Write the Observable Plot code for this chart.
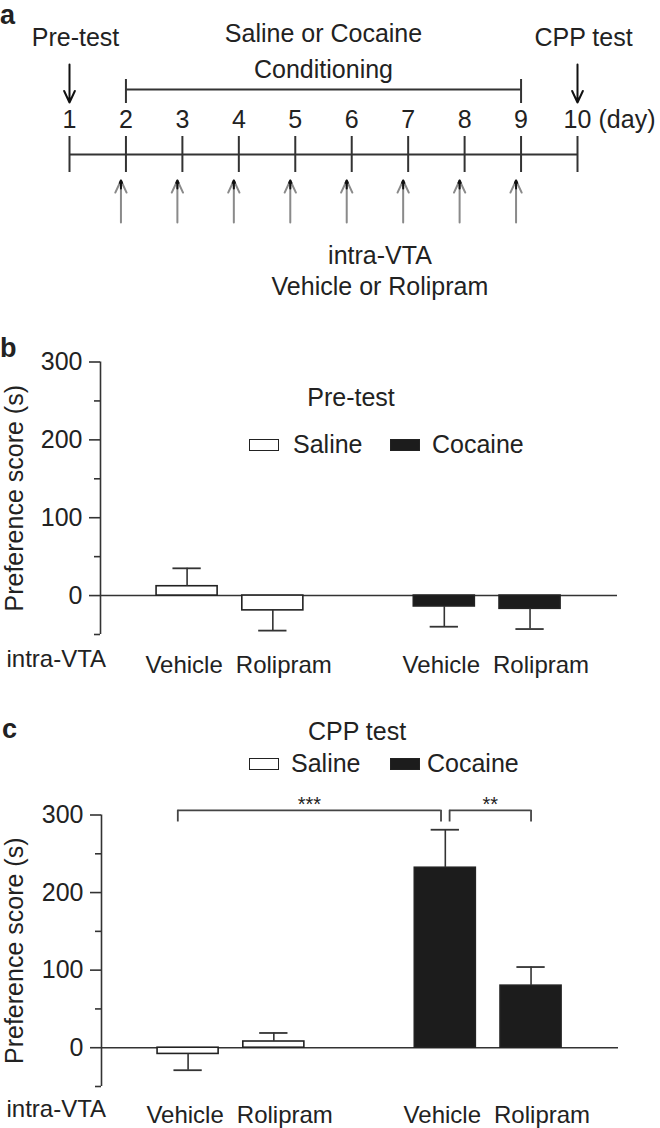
<!DOCTYPE html>
<html><head><meta charset="utf-8">
<script src="https://cdn.jsdelivr.net/npm/d3@7"></script>
<script src="https://cdn.jsdelivr.net/npm/@observablehq/plot@0.6"></script>
<style>
body{margin:0;background:#fff;}
#fig{position:relative;width:660px;height:1128px;overflow:hidden;font-family:"Liberation Sans",Arial,Helvetica,sans-serif;color:#222;}
#fig svg{position:absolute;left:0;}
.abs{position:absolute;white-space:nowrap;line-height:1;}
.sw{position:absolute;box-sizing:border-box;border:1.6px solid #222;}
</style></head><body><div id="fig"></div>
<script>
// ---------------- data ----------------
const days = [1, 2, 3, 4, 5, 6, 7, 8, 9, 10];
const testDays = [1, 10];
const testLabels = ["Pre-test", "CPP test"];
const conditioningDays = [2, 9];
const conditioningLabels = ["Saline or Cocaine", "Conditioning"];
const injectionDays = [2, 3, 4, 5, 6, 7, 8, 9];
const injectionLabels = ["intra-VTA", "Vehicle or Rolipram"];
const groups = ["Saline", "Cocaine"];
const drugs = ["Vehicle", "Rolipram"];
const preTestMean = [12, -19, -14, -17];
const preTestSem = [23, 26, 26, 26];
const cppMean = [-8, 8, 232, 80];
const cppSem = [21, 11, 49, 24];
const yTicks = [0, 100, 200, 300];
const yMinorTicks = [-50, 50, 150, 250];
const yLabel = "Preference score (s)";
const xGroupLabel = "intra-VTA";
const cppComparisons = [{from: 0, to: 2, label: "***"}, {from: 2, to: 3, label: "**"}];

// ---------------- helpers ----------------
const FONT = '"Liberation Sans", Arial, Helvetica, sans-serif';
const FS = 25;
const FSX = 24;
const fig = document.getElementById("fig");
function addText(txt, x, cy, {anchor = "middle", size = FS, weight = "normal"} = {}) {
  const d = document.createElement("div");
  d.className = "abs";
  d.textContent = txt;
  d.style.fontSize = size + "px";
  d.style.fontWeight = weight;
  d.style.top = (cy - 0.4885 * size) + "px";
  d.style.left = x + "px";
  if (anchor === "middle") d.style.transform = "translateX(-50%)";
  fig.appendChild(d);
  return d;
}
function addSwatch(x, cy, w, h, fill) {
  const d = document.createElement("div");
  d.className = "sw";
  Object.assign(d.style, {left: x + "px", top: (cy - h / 2) + "px", width: w + "px", height: h + "px", background: fill});
  fig.appendChild(d);
}
function place(svg, top) { svg.style.top = top + "px"; fig.appendChild(svg); }

// ---------------- panel a : timeline ----------------
const L = {title1: 33, title2: 69, testLabel: 37, bracket: 89, bracketTop: 79, bracketBot: 103,
  arrowTop: 64, arrowBot: 102, dayLabel: 119, lineTop: 136, line: 154, lineBot: 172,
  upTip: 180, upBot: 222, note1: 255, note2: 286};
const panelA = Plot.plot({
  width: 660, height: 330, marginLeft: 69, marginRight: 83, marginTop: 0, marginBottom: 0,
  style: {fontFamily: FONT, fontSize: FS + "px", color: "#222", background: "transparent", overflow: "visible"},
  x: {domain: [1, 10], axis: null},
  y: {domain: [0, 330], range: [0, 330], axis: null},
  marks: [
    Plot.text(testDays, {x: d => d, y: () => L.testLabel, text: (d, i) => testLabels[i], dx: 6, fontSize: FS, fill: "#222"}),
    Plot.arrow(testDays, {x1: d => d, x2: d => d, y1: () => L.arrowTop, y2: () => L.arrowBot, stroke: "#111", strokeWidth: 2, headLength: 12, headAngle: 50}),
    Plot.text(conditioningLabels, {x: () => d3.mean(conditioningDays), y: (d, i) => i ? L.title2 : L.title1, text: d => d, fontSize: FS, fill: "#222"}),
    Plot.ruleY([L.bracket], {y: d => d, x1: () => conditioningDays[0], x2: () => conditioningDays[1], stroke: "#333", strokeWidth: 2}),
    Plot.ruleX(conditioningDays, {x: d => d, y1: () => L.bracketTop, y2: () => L.bracketBot, stroke: "#333", strokeWidth: 2}),
    Plot.text(days, {x: d => d, y: () => L.dayLabel, text: d => String(d), fontSize: FS, fill: "#222"}),
    Plot.text(["(day)"], {x: () => days[days.length - 1], y: () => L.dayLabel, text: d => d, dx: 21, textAnchor: "start", fontSize: FS, fill: "#222"}),
    Plot.ruleY([L.line], {y: d => d, x1: () => days[0], x2: () => days[days.length - 1], stroke: "#333", strokeWidth: 2}),
    Plot.ruleX(days, {x: d => d, y1: () => L.lineTop, y2: () => L.lineBot, stroke: "#333", strokeWidth: 2}),
    Plot.arrow(injectionDays, {x1: d => d, x2: d => d, y1: () => L.upBot, y2: () => L.upTip, dx: -5, stroke: "#8a8a8a", strokeWidth: 2, headLength: 10, headAngle: 50}),
    Plot.arrow(injectionDays, {x1: d => d, x2: d => d, y1: () => L.upTip + 8, y2: () => L.upTip, dx: -5, stroke: "#111", strokeWidth: 2, headLength: 10, headAngle: 50}),
    Plot.text(injectionLabels, {x: () => d3.mean(injectionDays.slice(4, 6)), y: (d, i) => i ? L.note2 : L.note1, text: d => d, fontSize: FS, fill: "#222"})
  ]
});
place(panelA, 0);

// ---------------- bar panels ----------------
function barPanel({mean, sem, height, marginTop, marginBottom, marginLeft, marginRight, labelDy, comparisons = []}) {
  const rows = groups.flatMap((g, gi) => drugs.map((d, di) => {
    const i = gi * drugs.length + di;
    const r = {group: g, drug: d, slot: gi * (drugs.length + 1) + di, mean: mean[i], sem: sem[i]};
    r.end = r.mean + (r.mean >= 0 ? 1 : -1) * r.sem;
    return r;
  }));
  const xDomain = [-1.01, 5.02];
  const HW = 0.356, CAP = 0.165;
  const comps = comparisons.map(c => ({x1: rows[c.from].slot + (c.from === 0 ? -0.12 : 0.05), x2: rows[c.to].slot - (c.to === 2 ? 0.05 : 0), label: c.label}));
  const labelShift = {Vehicle: -3, Rolipram: 11};
  return Plot.plot({
    width: 660, height, marginTop, marginBottom, marginLeft, marginRight,
    style: {fontFamily: FONT, fontSize: FS + "px", color: "#222", background: "transparent", overflow: "visible"},
    x: {domain: xDomain},
    y: {domain: [-50, 300]},
    marks: [
      Plot.ruleY([0], {stroke: "#333", strokeWidth: 1.6}),
      Plot.ruleX([xDomain[0]], {y1: -50, y2: 300, stroke: "#333", strokeWidth: 1.6}),
      Plot.rectY(rows, {x1: r => r.slot - HW, x2: r => r.slot + HW, y1: 0, y2: "mean",
        fill: r => r.group === groups[0] ? "white" : "#1c1c1c", stroke: "#222", strokeWidth: 1.6}),
      Plot.ruleX(rows, {x: "slot", y1: "mean", y2: "end", stroke: "#333", strokeWidth: 1.6}),
      Plot.ruleY(rows, {y: "end", x1: r => r.slot - CAP, x2: r => r.slot + CAP, stroke: "#333", strokeWidth: 1.8}),
      Plot.axisY({ticks: yTicks, tickSize: 11, tickPadding: 7, fontSize: FS, label: null, stroke: "#333", strokeWidth: 1.6}),
      Plot.axisY({ticks: yMinorTicks, tickSize: 6, tickFormat: () => "", label: null, stroke: "#333", strokeWidth: 1.6}),
      ...drugs.map(dn => Plot.axisX({ticks: rows.filter(r => r.drug === dn).map(r => r.slot), tickFormat: () => dn,
        tickSize: 0, tickPadding: labelDy - 9, dx: labelShift[dn], fontSize: FSX, label: null})),
      Plot.text([xGroupLabel], {frameAnchor: "bottom-left", dx: 6 - marginLeft, dy: labelDy + 2, textAnchor: "start", fontSize: FSX, fill: "#222"}),
      Plot.text([yLabel], {frameAnchor: "left", textAnchor: "middle", rotate: -90, dx: 14 - marginLeft, fontSize: FS, fill: "#222"}),
      Plot.ruleY(comps, {y: () => 306, x1: "x1", x2: "x2", stroke: "#444", strokeWidth: 1.8}),
      Plot.ruleX(comps.flatMap(c => [c.x1, c.x2]), {x: d => d, y1: () => 306, y2: () => 291, stroke: "#444", strokeWidth: 1.8}),
      Plot.text(comps, {x: c => (c.x1 + c.x2) / 2, y: () => 314, text: "label", fontSize: 20, fill: "#222"})
    ]
  });
}

const panelB = barPanel({mean: preTestMean, sem: preTestSem, height: 370, marginTop: 31.5, marginBottom: 66, marginLeft: 100, marginRight: 43, labelDy: 30});
place(panelB, 330);
const panelC = barPanel({mean: cppMean, sem: cppSem, height: 428, marginTop: 114.5, marginBottom: 42, marginLeft: 101, marginRight: 42, labelDy: 28, comparisons: cppComparisons});
place(panelC, 700);

// ---------------- legends, titles, panel letters ----------------
addText("Pre-test", 351, 397);
addSwatch(249, 445, 30, 12, "white");
addText(groups[0], 293, 444, {anchor: "start"});
addSwatch(390, 445, 30, 12, "#1c1c1c");
addText(groups[1], 432, 444, {anchor: "start"});

addText("CPP test", 357, 731);
addSwatch(249, 764, 30, 12, "white");
addText(groups[0], 291, 763, {anchor: "start"});
addSwatch(390, 764, 30, 12, "#1c1c1c");
addText(groups[1], 427, 763, {anchor: "start"});

function letter(ch, x, baseline) {
  const size = 27;
  const d = document.createElement("div");
  d.className = "abs";
  d.textContent = ch;
  Object.assign(d.style, {fontSize: size + "px", fontWeight: "bold", left: x + "px", top: (baseline - 0.8465 * size) + "px"});
  fig.appendChild(d);
}
letter("a", 0, 25);
letter("b", 0, 358);
letter("c", 2, 739);
</script></body></html>
